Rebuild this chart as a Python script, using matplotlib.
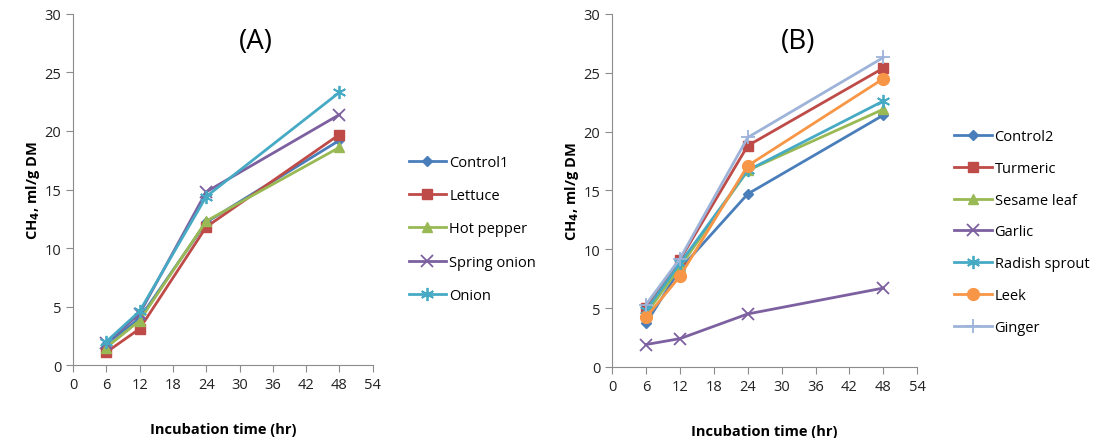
import numpy as np
import matplotlib.pyplot as plt

plt.rcParams['font.family'] = ['Open Sans', 'DejaVu Sans']

hours = [6, 12, 24, 48]

# panel A
names_a = ['Control1', 'Lettuce', 'Hot pepper', 'Spring onion', 'Onion']
control1 = [1.8, 4.0, 12.2, 19.2]
lettuce = [1.1, 3.1, 11.8, 19.7]
hot_pepper = [1.5, 3.8, 12.3, 18.6]
spring_onion = [1.9, 4.4, 14.8, 21.4]
onion = [2.0, 4.6, 14.4, 23.3]

# panel B
names_b = ['Control2', 'Turmeric', 'Sesame leaf', 'Garlic', 'Radish sprout', 'Leek', 'Ginger']
control2 = [3.7, 8.3, 14.7, 21.4]
turmeric = [5.0, 9.1, 18.8, 25.4]
sesame_leaf = [4.5, 8.5, 16.7, 21.9]
garlic = [1.9, 2.4, 4.5, 6.7]
radish_sprout = [4.8, 8.8, 16.7, 22.6]
leek = [4.2, 7.7, 17.1, 24.5]
ginger = [5.3, 9.2, 19.5, 26.3]

colors = ['#4A7EBB', '#BE4B48', '#98B954', '#7D60A0', '#46AAC5', '#F79646', '#9DB3D9']
asterisk = (6, 2, 0)
markers = ['D', 's', '^', 'x', asterisk, 'o', '+']
msizes = [5.5, 7.5, 7.5, 8.5, 9.5, 8.5, 10]

fig = plt.figure(figsize=(10.94, 4.39), dpi=100)
ax_a = fig.add_axes([0.0667, 0.166, 0.274, 0.80])
ax_b = fig.add_axes([0.5595, 0.162, 0.279, 0.804])


def draw(ax, series, names, tag, lx, ly, spacing):
    for i, (vals, name) in enumerate(zip(series, names)):
        m = markers[i]
        filled = m in ('D', 's', '^', 'o')
        ax.plot(hours, vals, color=colors[i], lw=2.0, marker=m, ms=msizes[i],
                mew=1.3 if not filled else 1, label=name)
    ax.set_xlim(0, 54)
    ax.set_ylim(0, 30)
    ax.set_xticks(np.arange(0, 55, 6))
    ax.set_yticks(np.arange(0, 31, 5))
    for s in ['top', 'right']:
        ax.spines[s].set_visible(False)
    for s in ['left', 'bottom']:
        ax.spines[s].set_color('#8c8c8c')
    ax.tick_params(colors='#8c8c8c', labelcolor='#222222', labelsize=10.5, length=5)
    ax.set_xlabel('Incubation time (hr)', fontweight='bold', fontsize=10.5, labelpad=22)
    ax.set_ylabel('CH$_\\mathbf{4}$, ml/g DM', fontweight='bold', fontsize=10.5, labelpad=2)
    ax.text(33, 27.7, tag, fontsize=20, ha='center', va='center')
    ax.legend(loc='upper left', bbox_to_anchor=(lx, ly), frameon=False, fontsize=10.5,
              handlelength=2.6, labelspacing=spacing, handletextpad=0.2, borderaxespad=0)


draw(ax_a, [control1, lettuce, hot_pepper, spring_onion, onion], names_a, '(A)', 1.1, 0.615, 1.25)
draw(ax_b, [control2, turmeric, sesame_leaf, garlic, radish_sprout, leek, ginger], names_b, '(B)',
     1.1, 0.69, 1.15)

fig.savefig('out.png', dpi=100)
